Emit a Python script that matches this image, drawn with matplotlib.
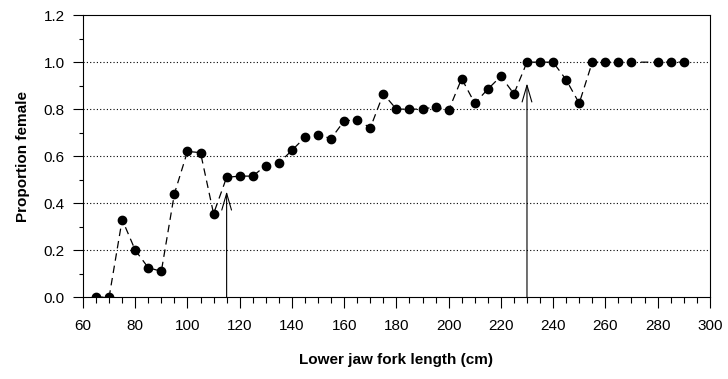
import matplotlib.pyplot as plt
from matplotlib.ticker import MultipleLocator

plt.rcParams['font.family'] = ['Liberation Sans', 'DejaVu Sans']

# lower jaw fork length classes (cm) and proportion female
length = [65, 70, 75, 80, 85, 90, 95, 100, 105, 110, 115, 120, 125, 130, 135,
          140, 145, 150, 155, 160, 165, 170, 175, 180, 185, 190, 195, 200,
          205, 210, 215, 220, 225, 230, 235, 240, 245, 250, 255, 260, 265,
          270, 280, 285, 290]
prop_female = [0.0, 0.0, 0.33, 0.20, 0.125, 0.11, 0.44, 0.62, 0.615, 0.355,
               0.51, 0.515, 0.515, 0.56, 0.57, 0.625, 0.68, 0.69, 0.675,
               0.75, 0.755, 0.72, 0.865, 0.80, 0.80, 0.80, 0.81, 0.795,
               0.93, 0.825, 0.885, 0.94, 0.865, 1.0, 1.0, 1.0, 0.925, 0.825,
               1.0, 1.0, 1.0, 1.0, 1.0, 1.0, 1.0]

# arrows marking lengths at 50% and 100% female
arrow_x = [115, 230]
arrow_tip = [0.45, 0.91]

fig = plt.figure(figsize=(7.28, 3.79), dpi=100)
ax = fig.add_axes([0.114, 0.216, 0.861, 0.744])

for yv in [0.2, 0.4, 0.6, 0.8, 1.0]:
    ax.axhline(yv, color='black', lw=0.8, ls=(0, (1, 2)), zorder=1)

ax.plot(length, prop_female, color='black', lw=0.9, ls=(0, (6, 4)),
        marker='o', ms=6, mfc='black', mec='black', zorder=3)

for xa, ya in zip(arrow_x, arrow_tip):
    ax.annotate('', xy=(xa, ya), xytext=(xa, 0.0),
                arrowprops=dict(arrowstyle='->,head_length=1.2,head_width=0.35',
                                color='black', lw=0.8, shrinkA=0, shrinkB=0),
                zorder=2)

ax.set_xlim(60, 300)
ax.set_ylim(0, 1.2)
ax.xaxis.set_major_locator(MultipleLocator(20))
ax.xaxis.set_minor_locator(MultipleLocator(5))
ax.yaxis.set_major_locator(MultipleLocator(0.2))
ax.yaxis.set_minor_locator(MultipleLocator(0.1))
ax.yaxis.set_major_formatter(plt.FuncFormatter(lambda v, p: f'{v:.1f}'))
ax.tick_params(which='major', direction='out', width=0.8, labelsize=11)
ax.tick_params(axis='x', which='major', length=8, pad=8)
ax.tick_params(axis='x', which='minor', direction='out', length=4, width=0.8)
ax.tick_params(axis='y', which='major', length=7, pad=6)
ax.tick_params(axis='y', which='minor', direction='out', length=3, width=0.8)
for s in ax.spines.values():
    s.set_linewidth(0.8)

ax.set_xlabel('Lower jaw fork length (cm)', fontsize=11, fontweight='bold',
              labelpad=14)
ax.set_ylabel('Proportion female', fontsize=11, fontweight='bold', labelpad=10)

fig.savefig('out.png', dpi=100)
